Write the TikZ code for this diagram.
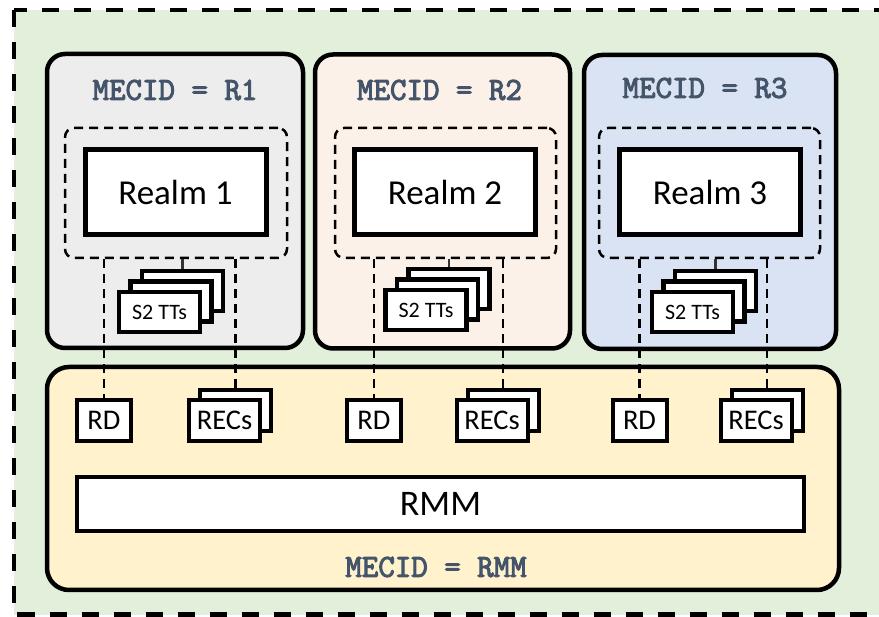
\documentclass[tikz,border=0pt]{standalone}
\usepackage{fontspec}
\setmainfont{Carlito}
\newfontfamily\mecfont[AutoFakeBold=3.2]{Latin Modern Mono}
\definecolor{bggreen}{HTML}{E2EFDA}
\definecolor{rone}{HTML}{EDEDED}
\definecolor{rtwo}{HTML}{FBF1E8}
\definecolor{rthree}{HTML}{DAE3F3}
\definecolor{rmmyellow}{HTML}{FFF2CC}
\definecolor{mectext}{HTML}{44546A}
\tikzset{
  region/.style={draw, line width=4.5pt, rounded corners=18pt, inner sep=0pt, minimum height=294pt},
  dbox/.style={draw, line width=2.5pt, dash pattern=on 9pt off 6pt, rounded corners=9pt, inner sep=0pt, minimum width=222pt, minimum height=130pt},
  realmbox/.style={draw, fill=white, line width=5pt, inner sep=0pt, minimum width=181pt, minimum height=85pt, font=\fontsize{35}{38}\selectfont},
  sttbox/.style={draw, fill=white, line width=4.5pt, inner sep=0pt, minimum width=81pt, minimum height=40pt, font=\fontsize{22}{25}\selectfont},
  rdbox/.style={draw, fill=white, line width=4pt, inner sep=0pt, minimum width=54pt, minimum height=41pt, font=\fontsize{28.5}{31}\selectfont},
  recbox/.style={draw, fill=white, line width=4pt, inner sep=0pt, minimum width=71pt, minimum height=41pt, font=\fontsize{28.5}{31}\selectfont},
  mectitle/.style={text=mectext, font=\fontsize{32}{36}\selectfont\mecfont\bfseries, inner sep=0pt},
  conn/.style={line width=2.5pt, dash pattern=on 9pt off 6pt},
  sconn/.style={line width=2.5pt, draw=black!80},
}
\begin{document}
\begin{tikzpicture}[x=1pt,y=-1pt]
\useasboundingbox (0,0) rectangle (879,617);
\clip (0,0) rectangle (879,617);
% outer area
\draw[fill=bggreen, line width=4.5pt, dash pattern=on 17pt off 15pt] (14,10) rectangle (920,614.5);
% regions
\node[region, fill=rone, minimum width=256pt] (reg1) at (175,201) {};
\node[region, fill=rtwo, minimum width=255pt] (reg2) at (442.5,201.5) {};
\node[region, fill=rthree, minimum width=252pt] (reg3) at (710,202) {};
\node[region, fill=rmmyellow, minimum width=792pt, minimum height=223pt, rounded corners=22pt] (rmmreg) at (443,478.5) {};
% titles
\node[mectitle] (t1) at (175,90) {MECID = R1};
\node[mectitle] (t2) at (439.5,90) {MECID = R2};
\node[mectitle] (t3) at (705,88) {MECID = R3};
\node[mectitle] (t4) at (436,567) {MECID = RMM};
% dashed boxes
\node[dbox] (d1) at (176,193) {};
\node[dbox, minimum width=221pt] (d2) at (445.5,193) {};
\node[dbox, minimum width=221pt] (d3) at (709.5,193) {};
% realms
\node[realmbox] (realm1) at (175.5,192.5) {Realm 1};
\node[realmbox] (realm2) at (445,192.5) {Realm 2};
\node[realmbox] (realm3) at (710,192.5) {Realm 3};
% S2 TT stacks
\node[sttbox] (sa1) at (182.5,291) {};
\node[sttbox] (sb1) at (171,301.5) {};
\node[sttbox] (sc1) at (159.5,312) {S2 TTs};
\node[sttbox] (sa2) at (449,289) {};
\node[sttbox] (sb2) at (437.5,299.5) {};
\node[sttbox] (sc2) at (426,310) {S2 TTs};
\node[sttbox] (sa3) at (715.5,291) {};
\node[sttbox] (sb3) at (704,301.5) {};
\node[sttbox] (sc3) at (692.5,312) {S2 TTs};
% RD and RECs
\node[rdbox] (rd1) at (104,420.5) {RD};
\node[rdbox] (rd2) at (374,420.5) {RD};
\node[rdbox] (rd3) at (639.5,420.5) {RD};
\node[recbox] (reb1) at (235.5,410.5) {};
\node[recbox] (ref1) at (224.5,420.5) {RECs};
\node[recbox] (reb2) at (503,410.5) {};
\node[recbox] (ref2) at (492,420.5) {RECs};
\node[recbox] (reb3) at (767,410.5) {};
\node[recbox] (ref3) at (756,420.5) {RECs};
% RMM
\node[draw, fill=white, line width=4.5pt, inner sep=0pt, minimum width=727pt, minimum height=54pt, font=\fontsize{36}{39}\selectfont] (rmm) at (440.5,504) {RMM};
% connectors
\foreach \i in {1,2,3}{
  \draw[sconn] (sa\i.north |- d\i.south) -- (sa\i.north);
  \draw[conn] (rd\i.north |- d\i.south) -- (rd\i.north);
  \draw[conn] (reb\i.north |- d\i.south) -- (reb\i.north);
}
\end{tikzpicture}
\end{document}
